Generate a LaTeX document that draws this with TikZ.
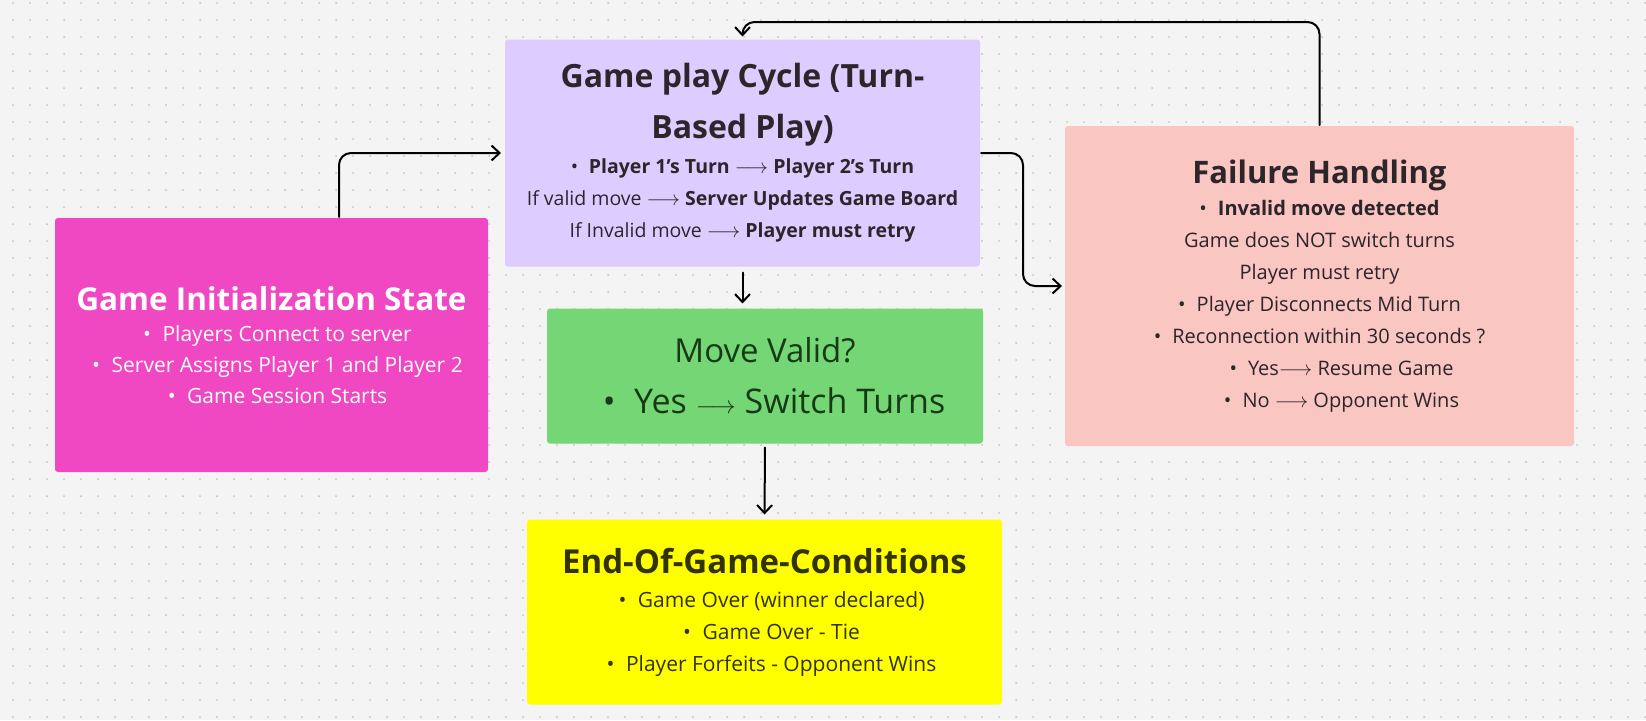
\documentclass[tikz,border=0pt]{standalone}
\usepackage{fontspec}
\setmainfont{Open Sans}
\usetikzlibrary{arrows.meta}

\definecolor{canvas}{RGB}{244,244,244}
\definecolor{griddot}{RGB}{196,196,196}
\definecolor{initpink}{RGB}{240,71,194}
\definecolor{playlilac}{RGB}{221,204,255}
\definecolor{failrose}{RGB}{249,198,194}
\definecolor{validgreen}{RGB}{116,214,117}
\definecolor{endyellow}{RGB}{255,255,0}
\definecolor{inkdark}{RGB}{44,37,41}
\definecolor{inkgreen}{RGB}{22,58,22}
\definecolor{inkolive}{RGB}{51,51,0}

\tikzset{every picture/.style={line width=2pt}}
\tikzset{
  box/.style={rectangle, rounded corners=3pt, inner sep=0pt, align=center},
  conn/.style={line width=2pt, rounded corners=12pt, line cap=round,
    -{Straight Barb[length=8pt,width=15pt,line width=2pt]}, shorten >=2pt},
}
\newcommand{\bul}{\textbullet\hspace{0.55em}}
\newcommand{\toarrow}{$\longrightarrow$}

\begin{document}
\begin{tikzpicture}[x=1pt,y=1pt,yscale=-1,xscale=1]
%Background
\useasboundingbox (0,0) rectangle (1646,720);
\fill [canvas] (0,0) rectangle (1646,720);
\foreach \i in {0,...,96}
  \foreach \j in {0,...,42}
    \fill [griddot] (13+17*\i,3+17*\j) circle (1);

%Shape: Rectangle (init)
\node [box, fill=initpink, text=white, minimum width=433, minimum height=254,
  font=\fontsize{21}{31}\selectfont] (init) at (271.5,345)
  {{\fontsize{31.5}{40}\selectfont\bfseries Game Initialization State}\\
   \hspace*{12pt}\bul Players Connect to server\\
   \hspace*{12pt}\bul Server Assigns Player 1 and Player 2\\
   \hspace*{12pt}\bul Game Session Starts};

%Shape: Rectangle (play)
\node [box, fill=playlilac, text=inkdark, minimum width=475, minimum height=227,
  font=\fontsize{19.5}{32}\selectfont] (play) at (742.5,153)
  {{\fontsize{32}{36}\selectfont\bfseries Game play Cycle (Turn-}\\[19pt]
   {\fontsize{32}{36}\selectfont\bfseries Based Play)}\\[3pt]
   \bul\textbf{Player 1’s Turn \toarrow\ Player 2’s Turn}\\
   If valid move \toarrow\ \textbf{Server Updates Game Board}\\
   If Invalid move \toarrow\ \textbf{Player must retry}};

%Shape: Rectangle (fail)
\node [box, fill=failrose, text=inkdark, minimum width=509, minimum height=320,
  font=\fontsize{20}{32}\selectfont] (fail) at (1319.5,286)
  {{\fontsize{31}{40}\selectfont\bfseries Failure Handling}\\
   \bul\textbf{Invalid move detected}\\
   Game does NOT switch turns\\
   Player must retry\\
   \bul Player Disconnects Mid Turn\\
   \bul Reconnection within 30 seconds ?\\
   \hspace*{44pt}\bul Yes\toarrow\ Resume Game\\
   \hspace*{44pt}\bul No \toarrow\ Opponent Wins};

%Shape: Rectangle (valid)
\node [box, fill=validgreen, text=inkgreen, minimum width=436, minimum height=135,
  font=\fontsize{33}{51}\selectfont] (valid) at (765,376)
  {Move Valid?\\
   \hspace*{18pt}{\fontsize{34}{51}\selectfont\bul Yes \toarrow\ Switch Turns}};

%Shape: Rectangle (ending)
\node [box, fill=endyellow, text=inkolive, minimum width=475, minimum height=185,
  font=\fontsize{21}{32}\selectfont] (ending) at (764.5,612)
  {{\fontsize{33}{40}\selectfont\bfseries End-Of-Game-Conditions}\\[2pt]
   \hspace*{14pt}\bul Game Over (winner declared)\\
   \hspace*{14pt}\bul Game Over - Tie\\
   \hspace*{14pt}\bul Player Forfeits - Opponent Wins};

%Connectors
\draw [conn, shorten >=3pt] ([xshift=67.5pt]init.north) |- (play.west);
\draw [conn] (play.east) -- ++(42,0) |- (fail.west);
\draw [conn] (fail.north) -- ++(0,-103) -| (play.north);
\draw [conn, shorten <=5pt, shorten >=4pt] (play.south) -- (play.south |- valid.north);
\draw [conn, shorten <=3pt, shorten >=4pt] (valid.south) -- (ending.north);

\end{tikzpicture}
\end{document}
